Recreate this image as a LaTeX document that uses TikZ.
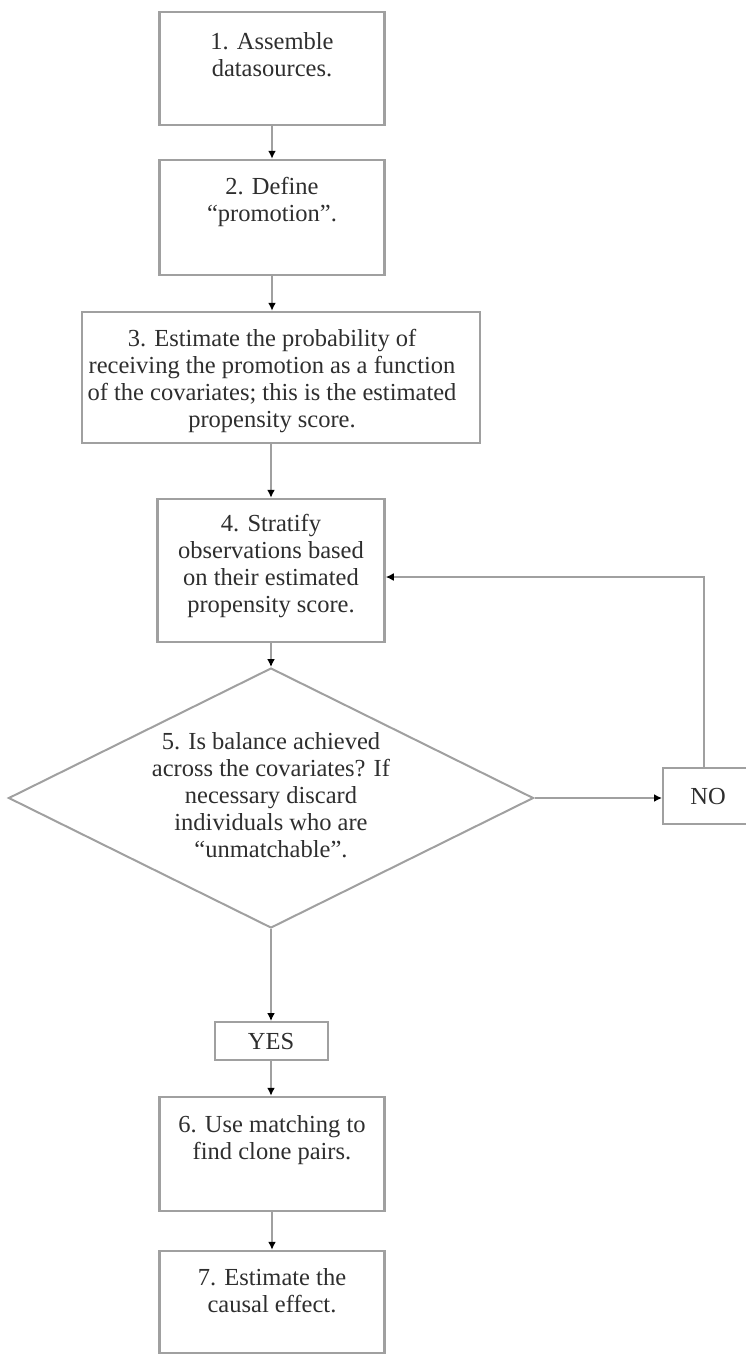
\documentclass[tikz,border=0pt]{standalone}
\usepackage{fontspec}
\setmainfont{Liberation Serif}
\usetikzlibrary{arrows.meta,shapes.geometric}
\definecolor{edge}{HTML}{A0A0A0}
\definecolor{ink}{HTML}{2E2E2E}
\tikzset{
  box/.style={draw=edge, line width=2.5pt, rectangle, inner sep=0pt},
  txt/.style={text=ink, inner sep=0pt, align=center, anchor=north,
    font=\fontsize{24.5}{27}\selectfont},
  conn/.style={draw=edge, line width=2.5pt, -{Latex[black,length=8pt,width=8pt]}},
}
\begin{document}
\begin{tikzpicture}[x=1pt,y=-1pt]
\useasboundingbox (0,0) rectangle (746,1355);
% boxes
\node[box, minimum width=225pt, minimum height=113pt] (b1) at (272,68.5) {};
\node[box, minimum width=225pt, minimum height=115pt] (b2) at (272,217.5) {};
\node[box, minimum width=398pt, minimum height=131pt] (b3) at (281,377.5) {};
\node[box, minimum width=227pt, minimum height=143pt] (b4) at (271,570.5) {};
\node[box, minimum width=225pt, minimum height=114pt] (b6) at (272,1154) {};
\node[box, minimum width=225pt, minimum height=102pt] (b7) at (272,1302) {};
\node[draw=edge, line width=2pt, diamond, aspect=2, inner sep=0pt,
      minimum width=525pt, minimum height=260pt] (d5) at (271,798) {};
\node[draw=edge, line width=2pt, rectangle, minimum width=90pt, minimum height=56pt,
      inner sep=0pt, text=ink, font=\fontsize{24.5}{27}\selectfont] (no) at (708,796) {NO};
\node[draw=edge, line width=2pt, rectangle, minimum width=113pt, minimum height=38pt,
      inner sep=0pt, text=ink, font=\fontsize{24.5}{27}\selectfont] (yes) at (271,1041) {YES};
% texts
\node[txt] (t1) at (272,32) {\vphantom{Ablh}1. Assemble\\datasources.};
\node[txt] (t2) at (272,177) {\vphantom{Ablh}2. Define\\“promotion”.};
\node[txt] (t3) at (272,329) {\vphantom{Ablh}3. Estimate the probability of\\receiving the promotion as a function\\of the covariates; this is the estimated\\propensity score.};
\node[txt] (t4) at (271,514) {\vphantom{Ablh}4. Stratify\\observations based\\on their estimated\\propensity score.};
\node[txt, anchor=center] (t5) at (271,795) {5. Is balance achieved\\across the covariates? If\\necessary discard\\individuals who are\\“unmatchable”.};
\node[txt] (t6) at (272,1115) {\vphantom{Ablh}6. Use matching to\\find clone pairs.};
\node[txt] (t7) at (272,1268) {\vphantom{Ablh}7. Estimate the\\causal effect.};
% connectors
\coordinate (corner) at (704,577);
\draw[conn] (b1.south) -- (b2.north);
\draw[conn] (b2.south) -- (b2.south |- b3.north);
\draw[conn] (b4.north |- b3.south) -- (b4.north);
\draw[conn] (b4.south) -- (d5.north);
\draw[conn] (d5.south) -- (yes.north);
\draw[conn] (yes.south) -- (yes.south |- b6.north);
\draw[conn] (b6.south) -- (b7.north);
\draw[conn] (d5.east) -- (d5.east -| no.west);
\draw[conn] (no.north -| corner) -- (corner) -- (corner -| b4.east);
\end{tikzpicture}
\end{document}
